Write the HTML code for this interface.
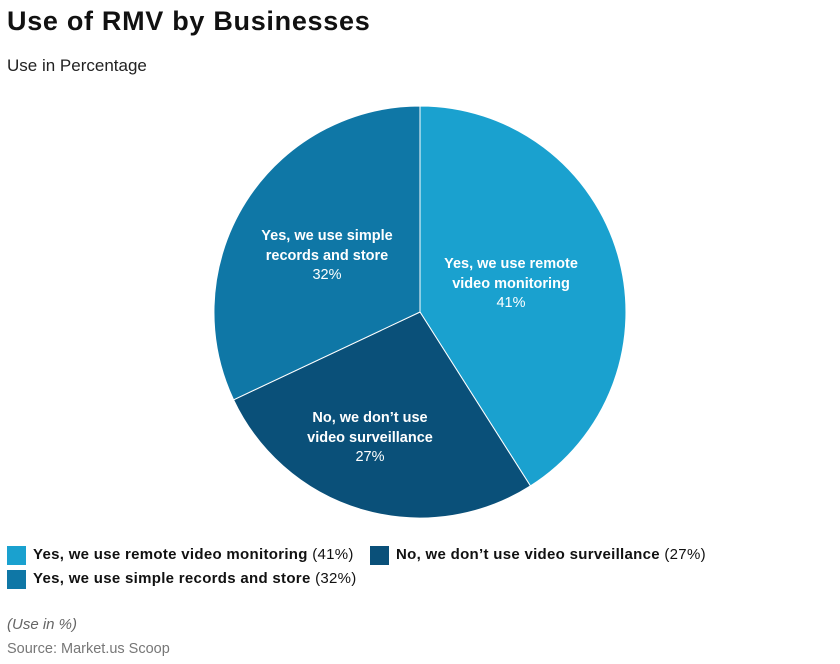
<!DOCTYPE html>
<html><head><style>
body{margin:0;width:840px;height:664px;background:#fff;font-family:"Liberation Sans",sans-serif;position:relative;overflow:hidden}
.t{position:absolute;white-space:nowrap}
.sq{position:absolute;width:19px;height:19px}
.lg{position:absolute;font-size:15px;font-weight:bold;color:#111;white-space:nowrap;letter-spacing:0.3px}
.lg span{font-weight:normal}
</style></head><body>
<div class="t" style="left:7px;top:6px;font-size:27px;font-weight:bold;color:#111;letter-spacing:0.7px">Use of RMV by Businesses</div>
<div class="t" style="left:7px;top:56px;font-size:17px;color:#222">Use in Percentage</div>
<svg style="position:absolute;left:0;top:0" width="840" height="664">
<g stroke="#fff" stroke-width="1">
<path d="M420,312 L420,106 A206,206 0 0 1 530.4,485.9 Z" fill="#1aa1cf"/>
<path d="M420,312 L530.4,485.9 A206,206 0 0 1 233.6,399.8 Z" fill="#0a5079"/>
<path d="M420,312 L233.6,399.8 A206,206 0 0 1 420,106 Z" fill="#0f77a6"/>
</g>
<g font-family="Liberation Sans" font-size="14.5" fill="#fff" text-anchor="middle" font-weight="bold">
<text x="511" y="268">Yes, we use remote</text>
<text x="511" y="288">video monitoring</text>
<text x="511" y="307" font-weight="normal">41%</text>
<text x="327" y="240">Yes, we use simple</text>
<text x="327" y="260">records and store</text>
<text x="327" y="279" font-weight="normal">32%</text>
<text x="370" y="422">No, we don’t use</text>
<text x="370" y="442">video surveillance</text>
<text x="370" y="461" font-weight="normal">27%</text>
</g>
</svg>
<div class="sq" style="left:7px;top:546px;background:#1aa1cf"></div>
<div class="lg" style="left:33px;top:546px">Yes, we use remote video monitoring <span>(41%)</span></div>
<div class="sq" style="left:7px;top:570px;background:#0f77a6"></div>
<div class="lg" style="left:33px;top:570px">Yes, we use simple records and store <span>(32%)</span></div>
<div class="sq" style="left:370px;top:546px;background:#0a5079"></div>
<div class="lg" style="left:396px;top:546px">No, we don’t use video surveillance <span>(27%)</span></div>
<div class="t" style="left:7px;top:616px;font-size:15px;font-style:italic;color:#666">(Use in %)</div>
<div class="t" style="left:7px;top:641px;font-size:14.5px;color:#777">Source: Market.us Scoop</div>
</body></html>
